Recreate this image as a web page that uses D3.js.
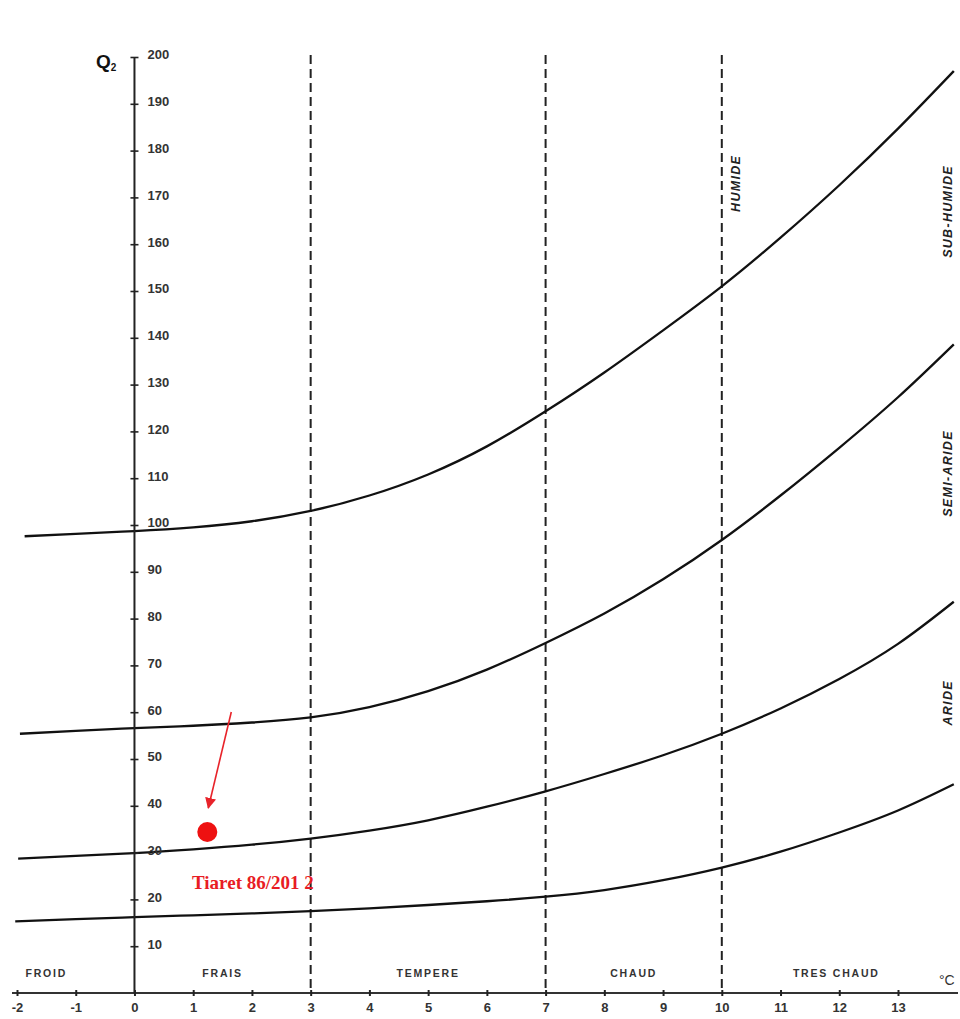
<!DOCTYPE html>
<html><head><meta charset="utf-8">
<script src="https://cdn.jsdelivr.net/npm/d3@7"></script>
<style>
body{margin:0;background:#fff;}
svg{display:block;}
.tk text{font-family:"Liberation Sans",Arial,sans-serif;font-weight:bold;font-size:13px;fill:#333;}
</style></head>
<body>
<svg id="c" width="960" height="1019"></svg>
<script>
// Data
const xTicks = [-2,-1,0,1,2,3,4,5,6,7,8,9,10,11,12,13];
const yTicks = [10,20,30,40,50,60,70,80,90,100,110,120,130,140,150,160,170,180,190,200];
const curveM = [-1.95,-1,0,1,2,3,4,5,6,7,8,9,10,11,12,13,13.95];
const curveHumide   = [97.6,98.1,98.7,99.5,100.8,103,106.3,110.8,116.8,124.3,132.6,141.6,151,161.4,172.6,184.7,197];
const curveSemiArid = [55.4,56,56.6,57.1,57.8,58.9,61.1,64.5,69.1,74.8,81.1,88.4,96.8,106.3,116.5,127.3,138.6];
const curveArid     = [28.7,29.3,29.9,30.7,31.7,33,34.7,36.9,39.8,43.1,46.8,50.8,55.4,60.8,67.1,74.6,83.6];
const curveSahara   = [15.3,15.8,16.2,16.6,17,17.5,18.1,18.8,19.6,20.6,22,24.1,26.8,30.2,34.3,39,44.6];
const curveStarts = [-1.87,-1.95,-1.98,-2.03];
const dividers = [3,7,10];
const zoneLabels = [{t:"FROID",m:-1.5},{t:"FRAIS",m:1.5},{t:"TEMPERE",m:5},{t:"CHAUD",m:8.5},{t:"TRES CHAUD",m:11.95}];
const bioLabels = [{t:"HUMIDE",m:10.25,q:173},{t:"SUB-HUMIDE",m:13.85,q:167},{t:"SEMI-ARIDE",m:13.85,q:111},{t:"ARIDE",m:13.85,q:62}];
const station = {name:"Tiaret 86/201 2", m:1.24, q:34.4};

const svg = d3.select("#c");
const x = d3.scaleLinear().domain([-2,13]).range([17,898]);
const y = d3.scaleLinear().domain([0,200]).range([993,57]);

// dashed dividers
svg.selectAll(".div").data(dividers).enter().append("line")
  .attr("x1",d=>x(d)).attr("x2",d=>x(d)).attr("y1",55).attr("y2",y(0))
  .attr("stroke","#222").attr("stroke-width",2).attr("stroke-dasharray","9,5");

// curves
const line = d3.line().x(d=>x(d[0])).y(d=>y(d[1])).curve(d3.curveNatural);
[curveHumide,curveSemiArid,curveArid,curveSahara].forEach((arr,i)=>{
  const pts = curveM.map((m,j)=>[j===0?curveStarts[i]:m, arr[j]]);
  svg.append("path").attr("d",line(pts)).attr("fill","none").attr("stroke","#111").attr("stroke-width",2.3);
});

// x axis
svg.append("line").attr("x1",12).attr("x2",958).attr("y1",y(0)).attr("y2",y(0)).attr("stroke","#333").attr("stroke-width",2);
const gx = svg.append("g").attr("class","tk").attr("transform",`translate(0,${y(0)})`)
  .call(d3.axisBottom(x).tickValues(xTicks).tickSize(3).tickPadding(7).tickFormat(d=>String(d)));
gx.select(".domain").remove();
gx.selectAll(".tick line").attr("y1",-3).attr("stroke","#222").attr("stroke-width",2);

// y axis
svg.append("line").attr("x1",x(0)).attr("x2",x(0)).attr("y1",y(200)).attr("y2",y(0)).attr("stroke","#222").attr("stroke-width",2);
const gy = svg.append("g").attr("class","tk").attr("transform",`translate(${x(0)},0)`)
  .call(d3.axisRight(y).tickValues(yTicks).tickSize(4).tickPadding(9));
gy.select(".domain").remove();
gy.selectAll(".tick line").attr("x1",-4).attr("stroke","#222").attr("stroke-width",1.6);
gy.selectAll(".tick text").attr("dy","0.15em");

// Q2 label
const q = svg.append("text").attr("x",96).attr("y",68).attr("font-family","Liberation Sans,Arial,sans-serif").attr("font-weight","bold").attr("fill","#111");
q.append("tspan").attr("font-size",19).text("Q");
q.append("tspan").attr("font-size",10).attr("dy",3).text("2");

// zone labels bottom
svg.selectAll(".zl").data(zoneLabels).enter().append("text")
  .attr("x",d=>x(d.m)).attr("y",977).attr("text-anchor","middle")
  .attr("font-family","Liberation Sans,Arial,sans-serif").attr("font-weight","bold").attr("font-size",10.5).attr("fill","#333").attr("letter-spacing","1.8")
  .text(d=>d.t);
svg.append("text").attr("x",939).attr("y",985).attr("font-family","Liberation Sans,Arial,sans-serif").attr("font-size",14).attr("fill","#333").text("°C");

// bioclimatic labels (rotated)
svg.selectAll(".bl").data(bioLabels).enter().append("text")
  .attr("transform",d=>`translate(${x(d.m)+4},${y(d.q)}) rotate(-90)`)
  .attr("text-anchor","middle")
  .attr("font-family","Liberation Sans,Arial,sans-serif").attr("font-weight","bold").attr("font-style","italic").attr("font-size",12.5).attr("fill","#222").attr("letter-spacing","1.3")
  .text(d=>d.t);

// station point
svg.append("defs").append("marker").attr("id","ah").attr("viewBox","0 0 10 10").attr("refX",9).attr("refY",5)
  .attr("markerWidth",7).attr("markerHeight",7).attr("orient","auto")
  .append("path").attr("d","M0,0 L10,5 L0,10 Z").attr("fill","#e8232a");
svg.append("line").attr("x1",x(station.m)+24).attr("y1",712).attr("x2",x(station.m)+1).attr("y2",808)
  .attr("stroke","#e8232a").attr("stroke-width",1.6).attr("marker-end","url(#ah)");
svg.append("circle").attr("cx",x(station.m)).attr("cy",y(station.q)).attr("r",10).attr("fill","#ee1111");
svg.append("text").attr("x",192).attr("y",889).attr("font-family","Liberation Serif,Times New Roman,serif").attr("font-weight","bold").attr("font-size",19).attr("fill","#e81c24").text(station.name);
</script>
</body></html>
